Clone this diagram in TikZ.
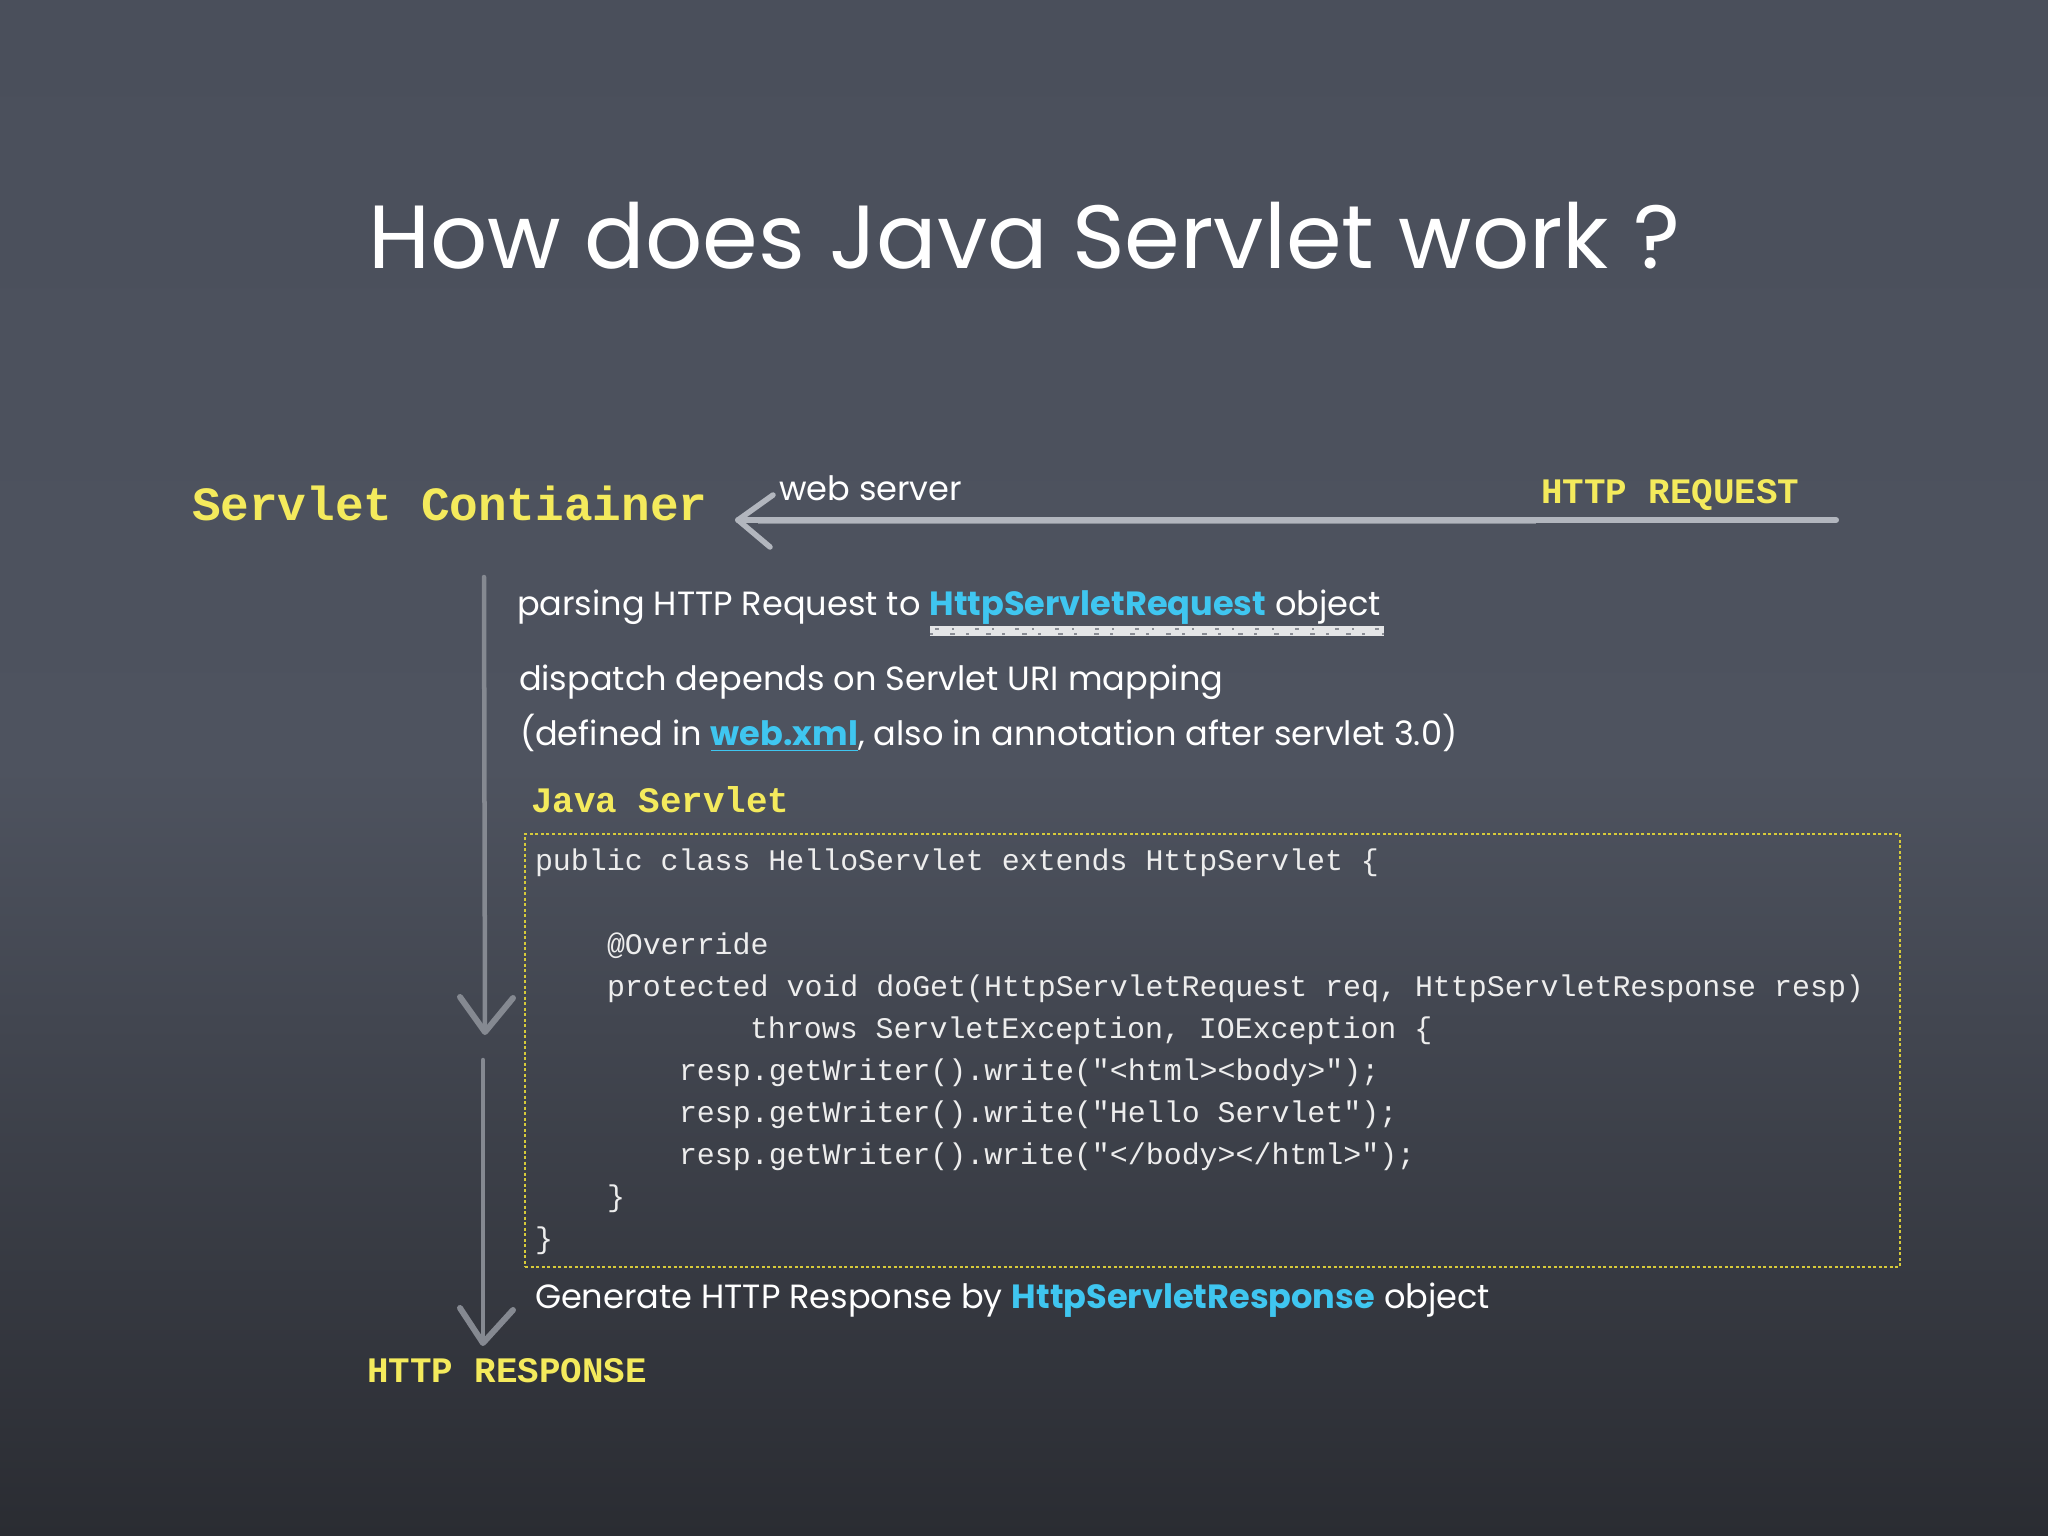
\documentclass[tikz,border=0pt]{standalone}
\usepackage{fontspec}
\setmainfont{Poppins}
\setmonofont{Liberation Mono}
\usetikzlibrary{calc}
\definecolor{bgtop}{HTML}{4A4F5B}
\definecolor{bgmid}{HTML}{4E535F}
\definecolor{bgbot}{HTML}{2A2C32}
\definecolor{chalkY}{HTML}{F4EA5C}
\definecolor{chalkC}{HTML}{3FC6F0}
\definecolor{chalkG}{HTML}{B2B6BE}
\definecolor{chalkV}{HTML}{858991}
\definecolor{boxY}{HTML}{D6CA3A}
\definecolor{codeW}{HTML}{EDEDED}
\newcommand{\hl}[1]{{\color{chalkC}\bfseries #1}}
\begin{document}
\begin{tikzpicture}[x=0.01cm,y=-0.01cm,
  every node/.style={inner sep=0pt, outer sep=0pt, anchor=base west},
  title/.style={text=white, font=\fontsize{25.5pt}{30pt}\selectfont},
  body/.style={text=white, font=\fontsize{9.55pt}{12pt}\selectfont},
  biglabel/.style={text=chalkY, font=\ttfamily\bfseries\fontsize{13.57pt}{16pt}\selectfont},
  label/.style={text=chalkY, font=\ttfamily\bfseries\fontsize{10.2pt}{12pt}\selectfont},
  code/.style={text=codeW, font=\ttfamily\fontsize{8.51pt}{10pt}\selectfont},
  chalkH/.style={draw=chalkG, line width=0.06cm, line cap=round},
  chalkHead/.style={draw=chalkG, line width=0.055cm, line cap=round, line join=round},
  chalkVert/.style={draw=chalkV, line width=0.045cm, line cap=round},
  chalkVHead/.style={draw=chalkV, line width=0.06cm, line cap=round, line join=round},
  scribble/.style={draw=white, line width=0.1cm, opacity=0.85},
  codebox/.style={draw=boxY, line width=0.018cm, dash pattern=on 0.03cm off 0.025cm, anchor=north west,
     minimum width=13.74cm, minimum height=4.33cm}
]
\fill[top color=bgtop, bottom color=bgbot, middle color=bgmid] (0,0) rectangle (2048,1536);
\useasboundingbox (0,0) rectangle (2048,1536);

% title
\node[title] (ttl) at (368,268) {How does Java Servlet work ?};

% top row
\node[biglabel] (cont) at (192,520) {Servlet Contiainer};
\node[body] (web) at (779,500) {web server};
\node[label] (req) at (1541,503) {HTTP REQUEST};
\coordinate (reqR) at (1836,520);
\coordinate (tipL) at (738,520);
\draw[chalkH] (reqR) -- (tipL);
\draw[draw=chalkG, line width=0.02cm, opacity=0.6] ($(reqR)+(-300,3)$) -- ($(tipL)+(20,3)$);
\draw[chalkHead] ($(tipL)+(35,-25)$) -- (tipL) -- ($(tipL)+(32,27)$);

% texts
\node[body] (parse) at (517,615) {parsing HTTP Request to \hl{HttpServletRequest} object};
\coordinate (scrL) at (930,631);
\coordinate (scrR) at (1384,631);
\draw[scribble] (scrL) -- (scrR);
\draw[draw=bgmid, line width=0.012cm, opacity=0.6, dash pattern=on 0.04cm off 0.13cm on 0.02cm off 0.21cm] ($(scrL)+(5,-2)$) -- ($(scrR)+(0,-2)$);
\draw[draw=bgmid, line width=0.012cm, opacity=0.6, dash pattern=on 0.03cm off 0.17cm on 0.05cm off 0.11cm] ($(scrL)+(0,3)$) -- ($(scrR)+(0,3)$);
\node[body] (disp) at (519,690) {dispatch depends on Servlet URI mapping};
\node[body] (defd) at (520,745) {(defined in {\color{chalkC}\underline{\bfseries web.xml}}, also in annotation after servlet 3.0)};
\node[label] (jsv) at (531,812) {Java Servlet};

% code box
\node[codebox] (box) at (525,834) {};
\node[code] (c1) at (535,870) {public class HelloServlet extends HttpServlet \{};
\node[code] (c2) at (607,954) {@Override};
\node[code] (c3) at (607,996) {protected void doGet(HttpServletRequest req, HttpServletResponse resp)};
\node[code] (c4) at (750,1038) {throws ServletException, IOException \{};
\node[code] (c5) at (679,1080) {resp.getWriter().write("<html><body>");};
\node[code] (c6) at (679,1122) {resp.getWriter().write("Hello Servlet");};
\node[code] (c7) at (679,1164) {resp.getWriter().write("</body></html>");};
\node[code] (c8) at (607,1206) {\}};
\node[code] (c9) at (535,1248) {\}};

\node[body] (gen) at (535,1308) {Generate HTTP Response by \hl{HttpServletResponse} object};
\node[label] (resp) at (367,1382) {HTTP RESPONSE};

% vertical arrows
\coordinate (v1a) at (484,577);
\coordinate (v1b) at (485,1032);
\coordinate (v2a) at (483,1060);
\coordinate (v2b) at (483,1343);
\draw[chalkVert] (v1a) -- (v1b);
\draw[chalkVHead] ($(v1b)+(-25,-35)$) -- (v1b) -- ($(v1b)+(28,-34)$);
\draw[chalkVert] (v2a) -- (v2b);
\draw[chalkVHead] ($(v2b)+(-23,-35)$) -- (v2b) -- ($(v2b)+(30,-33)$);
\end{tikzpicture}
\end{document}
